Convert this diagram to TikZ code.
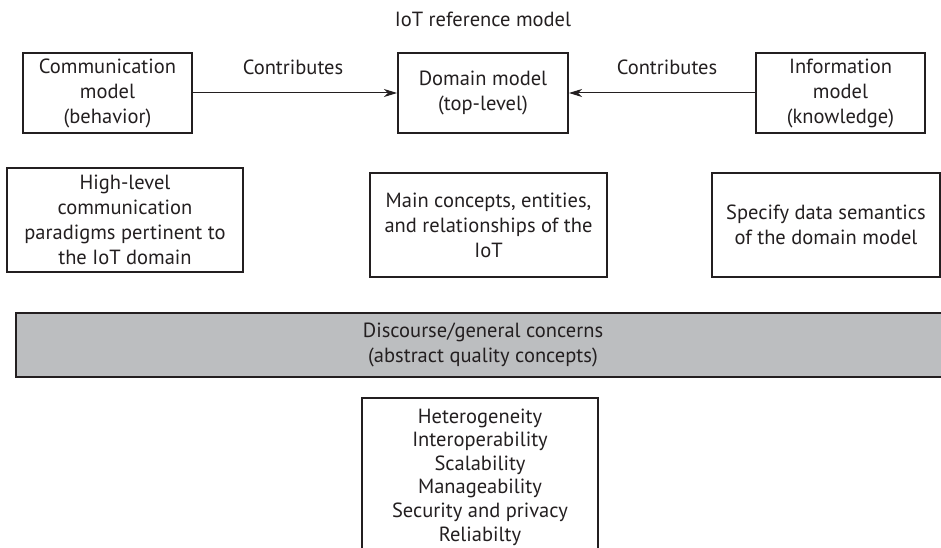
\documentclass[tikz,border=0pt]{standalone}
\usepackage{fontspec}
\setmainfont{PT Sans}
\usetikzlibrary{arrows.meta}
\definecolor{ink}{HTML}{231F20}
\definecolor{bargray}{HTML}{BCBEC0}
\tikzset{textfont/.style={text=ink,font=\fontsize{20.5}{25}\selectfont},
    model box/.style={textfont,draw=ink,line width=2pt,align=center,inner sep=0pt,minimum height=80pt},
    note box/.style={textfont,draw=ink,line width=2pt,align=center,inner sep=0pt,minimum height=104pt},
    contributes/.style={draw=ink,line width=1pt,-{Stealth[length=13pt,width=8pt,inset=4pt]}}}

\begin{document}
\begin{tikzpicture}[x=1pt,y=-1pt]
    \clip (0,0) rectangle (941,548);
    \node[textfont] at (483,19)         (title)  {IoT reference model};
    \node[model box,minimum width=169pt] at (107.5,93)   (comm)  {Communication\\model\\(behavior)};
    \node[model box,minimum width=170pt] at (483,93)     (domain)  {Domain model\\(top-level)};
    \node[model box,minimum width=169pt] at (840.5,93)   (info)  {Information\\model\\(knowledge)};
    \node[textfont] at (293,67)         (contr-l)  {Contributes};
    \node[textfont] at (667,67)         (contr-r)  {Contributes};
    \node[note box,minimum width=236pt] at (125,220)     (comm-note)  {High-level\\communication\\paradigms pertinent to\\the IoT domain};
    \node[note box,minimum width=237pt] at (488.5,225)   (domain-note)  {Main concepts, entities,\\and relationships of the\\IoT};
    \node[note box,minimum width=228pt] at (826,225)     (info-note)  {Specify data semantics\\of the domain model};
    \node[note box,fill=bargray,minimum width=934pt,minimum height=64pt] at (483,345)   (concerns)  {Discourse/general concerns\\(abstract quality concepts)};
    \node[note box,font=\fontsize{20.5}{23.6}\selectfont,minimum width=236pt,minimum height=158pt,anchor=north] at (480,397)   (qualities)  {Heterogeneity\\Interoperability\\Scalability\\Manageability\\Security and privacy\\Reliabilty};

    \draw[contributes] (comm) -- (domain);
    \draw[contributes] (info) -- (domain);
\end{tikzpicture}
\end{document}
